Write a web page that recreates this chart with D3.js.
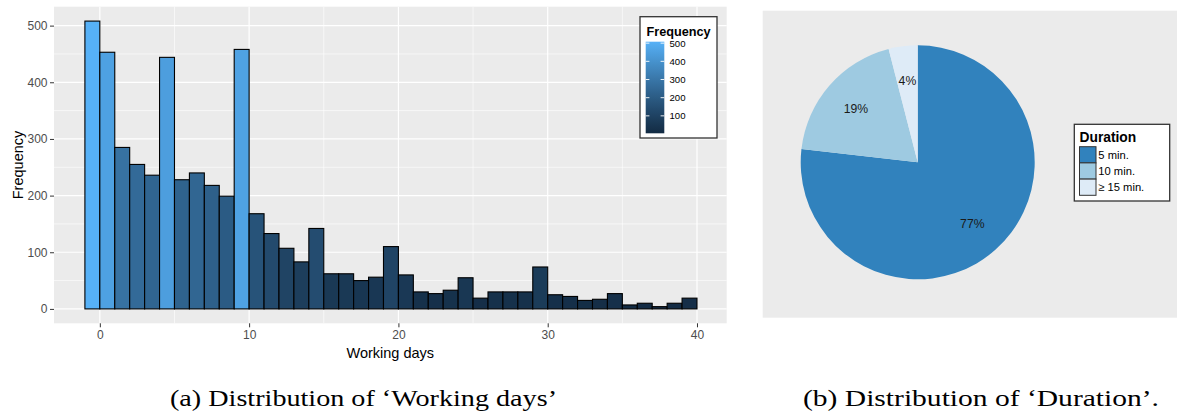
<!DOCTYPE html>
<html>
<head>
<meta charset="utf-8">
<script src="https://cdn.jsdelivr.net/npm/d3@7"></script>
<style>
  html, body { margin: 0; padding: 0; background: #fff; }
  svg { display: block; }
  text { font-family: "Liberation Sans", Arial, sans-serif; }
</style>
</head>
<body>
<svg id="chart" width="1177" height="414"></svg>
<script>
// ---------- data ----------
// histogram bins (k-1, k] identified by their right edge (working days)
const binEnds = [0,1,2,3,4,5,6,7,8,9,10,11,12,13,14,15,16,17,18,19,20,
                 21,22,23,24,25,26,27,28,29,30,31,32,33,34,35,36,37,38,39,40];
const binCounts = [508,453,285,255,236,444,228,240,218,199,458,168,133,107,83,142,62,62,50,56,110,
                   60,30,27,33,55,19,30,30,30,74,25,22,15,17,27,7,10,4,10,19];
const xTicks = [0, 10, 20, 30, 40];
const yTicks = [0, 100, 200, 300, 400, 500];
const freqLegendTicks = [100, 200, 300, 400, 500];

const durationLabels = ["5 min.", "10 min.", "\u2265 15 min."];
const durationShares = [76.8, 19.2, 4.0];
const durationPctLabels = ["77%", "19%", "4%"];
const durationColors = ["#3182BD", "#9ECAE1", "#DEEBF7"];

const captionA = "(a) Distribution of \u2018Working days\u2019";
const captionB = "(b) Distribution of \u2018Duration\u2019.";

// ---------- histogram ----------
const svg = d3.select("#chart");
const P = {left: 54, top: 6.7, right: 726.7, bottom: 323.3};

const x = d3.scaleLinear().domain([-3.05, 42.05]).range([54.3, 727.6]);
const y = d3.scaleLinear().domain([-25.4, 533.4]).range([P.bottom, P.top]);

const cmin = d3.min(binCounts), cmax = d3.max(binCounts);
const fill = d3.scaleLinear().domain([cmin, cmax])
  .range(["#132B43", "#56B1F7"]).interpolate(d3.interpolateLab);

const g = svg.append("g");
g.append("rect").attr("x", P.left).attr("y", P.top)
  .attr("width", P.right - P.left).attr("height", P.bottom - P.top)
  .attr("fill", "#EBEBEB");

// minor grid
[50,150,250,350,450].forEach(v => g.append("line")
  .attr("x1", P.left).attr("x2", P.right).attr("y1", y(v)).attr("y2", y(v))
  .attr("stroke", "#fff").attr("stroke-width", 0.6));
[-5+10,15,25,35].forEach(v => g.append("line")
  .attr("y1", P.top).attr("y2", P.bottom).attr("x1", x(v)).attr("x2", x(v))
  .attr("stroke", "#fff").attr("stroke-width", 0.6));
// major grid
yTicks.forEach(v => g.append("line")
  .attr("x1", P.left).attr("x2", P.right).attr("y1", y(v)).attr("y2", y(v))
  .attr("stroke", "#fff").attr("stroke-width", 1.2));
xTicks.forEach(v => g.append("line")
  .attr("y1", P.top).attr("y2", P.bottom).attr("x1", x(v)).attr("x2", x(v))
  .attr("stroke", "#fff").attr("stroke-width", 1.2));

// bars
g.selectAll("rect.bar").data(binEnds).enter().append("rect")
  .attr("class", "bar")
  .attr("x", d => x(d - 1))
  .attr("width", d => x(d) - x(d - 1))
  .attr("y", (d, i) => y(binCounts[i]))
  .attr("height", (d, i) => y(0) - y(binCounts[i]))
  .attr("fill", (d, i) => fill(binCounts[i]))
  .attr("stroke", "#000").attr("stroke-width", 1.1);

// axes
const yAxis = d3.axisLeft(y).tickValues(yTicks).tickSize(4).tickPadding(2.5);
const ya = svg.append("g").attr("transform", `translate(${P.left},0)`).call(yAxis);
const xAxis = d3.axisBottom(x).tickValues(xTicks).tickSize(4).tickPadding(3);
const xa = svg.append("g").attr("transform", `translate(0,${P.bottom})`).call(xAxis);
[ya, xa].forEach(a => {
  a.select(".domain").remove();
  a.selectAll(".tick line").attr("stroke", "#333").attr("stroke-width", 1);
  a.selectAll(".tick text").attr("fill", "#4D4D4D").style("font-size", "12px")
    .style("font-family", "'Liberation Sans', Arial, sans-serif");
});

svg.append("text").attr("x", 390.3).attr("y", 358.3).attr("text-anchor", "middle")
  .style("font-size", "14.5px").attr("fill", "#000").text("Working days");
svg.append("text").attr("transform", "translate(22.7,165) rotate(-90)")
  .attr("text-anchor", "middle").style("font-size", "14.5px").attr("fill", "#000")
  .text("Frequency");

// colour-bar legend
const L = {x: 640, y: 16.7, w: 77, h: 121.3};
svg.append("rect").attr("x", L.x).attr("y", L.y).attr("width", L.w).attr("height", L.h)
  .attr("fill", "#fff").attr("stroke", "#333").attr("stroke-width", 1.3);
svg.append("text").attr("x", 646.5).attr("y", 35.5).style("font-size", "12.7px")
  .style("font-weight", "bold").attr("fill", "#000").text("Frequency");

const cb = {x: 645.7, w: 18.6};
const cy = d3.scaleLinear().domain([cmin, cmax]).range([133.3, 41.7]);
const defs = svg.append("defs");
const grad = defs.append("linearGradient").attr("id", "cbgrad")
  .attr("x1", 0).attr("y1", 1).attr("x2", 0).attr("y2", 0);
d3.range(0, 21).forEach(i => {
  const v = cmin + (cmax - cmin) * i / 20;
  grad.append("stop").attr("offset", (i / 20)).attr("stop-color", fill(v));
});
svg.append("rect").attr("x", cb.x).attr("y", cy(cmax)).attr("width", cb.w)
  .attr("height", cy(cmin) - cy(cmax)).attr("fill", "url(#cbgrad)");
freqLegendTicks.forEach(v => {
  const yy = cy(v);
  svg.append("line").attr("x1", cb.x).attr("x2", cb.x + 3.7).attr("y1", yy).attr("y2", yy)
    .attr("stroke", "#fff").attr("stroke-width", 0.9);
  svg.append("line").attr("x1", cb.x + cb.w - 3.7).attr("x2", cb.x + cb.w).attr("y1", yy).attr("y2", yy)
    .attr("stroke", "#fff").attr("stroke-width", 0.9);
  svg.append("text").attr("x", 669.5).attr("y", yy + 3.4).style("font-size", "9.6px")
    .attr("fill", "#000").text(v);
});

// ---------- pie ----------
svg.append("rect").attr("x", 762.7).attr("y", 10.7).attr("width", 1177 - 762.7)
  .attr("height", 317.7 - 10.7).attr("fill", "#EBEBEB");

const cx = 917.7, cyy = 162.3, R = 117;
const pie = d3.pie().sort(null).value(d => d)(durationShares);
const arc = d3.arc().innerRadius(0).outerRadius(R);
const labArc = d3.arc().innerRadius(82).outerRadius(82);
const pg = svg.append("g").attr("transform", `translate(${cx},${cyy})`);
pg.selectAll("path").data(pie).enter().append("path")
  .attr("d", arc).attr("fill", (d, i) => durationColors[i]);
pg.selectAll("text").data(pie).enter().append("text")
  .attr("transform", d => `translate(${labArc.centroid(d)})`)
  .attr("text-anchor", "middle").attr("dy", "0.36em")
  .style("font-size", "12.2px").attr("fill", "#1a1a1a")
  .text((d, i) => durationPctLabels[i]);

// duration legend
svg.append("rect").attr("x", 1074.3).attr("y", 124.3).attr("width", 95.4).attr("height", 76.7)
  .attr("fill", "#fff").attr("stroke", "#333").attr("stroke-width", 1.3);
svg.append("text").attr("x", 1079.5).attr("y", 141.5).style("font-size", "13.8px")
  .style("font-weight", "bold").attr("fill", "#000").text("Duration");
const keyY = d3.scaleBand().domain(durationLabels).range([146.7, 195.3]);
durationLabels.forEach((lab, i) => {
  svg.append("rect").attr("x", 1079.5).attr("y", keyY(lab)).attr("width", 16.5)
    .attr("height", keyY.bandwidth()).attr("fill", durationColors[i])
    .attr("stroke", "#333").attr("stroke-width", 1);
  svg.append("text").attr("x", 1098.3).attr("y", keyY(lab) + keyY.bandwidth() / 2 + 4)
    .style("font-size", "11.2px").attr("fill", "#000").text(lab);
});

// ---------- captions ----------
svg.append("text").attr("x", 170).attr("y", 405.6)
  .attr("textLength", 387).attr("lengthAdjust", "spacingAndGlyphs")
  .style("font-family", "'Liberation Serif', 'DejaVu Serif', serif").style("font-size", "23px")
  .attr("fill", "#000").text(captionA);
svg.append("text").attr("x", 803).attr("y", 405.6)
  .attr("textLength", 356).attr("lengthAdjust", "spacingAndGlyphs")
  .style("font-family", "'Liberation Serif', 'DejaVu Serif', serif").style("font-size", "23px")
  .attr("fill", "#000").text(captionB);
</script>
</body>
</html>
